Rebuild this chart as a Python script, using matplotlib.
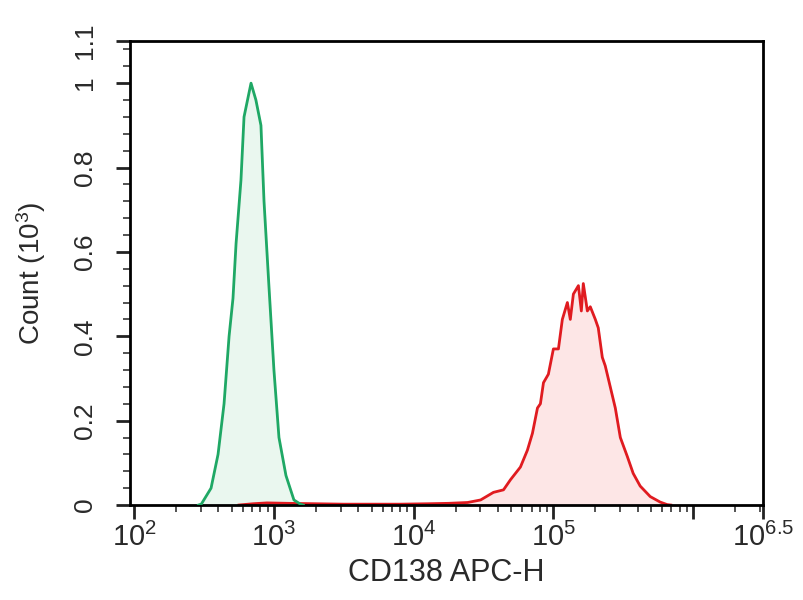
import numpy as np
import matplotlib
matplotlib.use("Agg")
import matplotlib.pyplot as plt
from matplotlib.ticker import FixedLocator, FixedFormatter, LogLocator, NullFormatter

plt.rcParams["font.family"] = ["Liberation Sans", "DejaVu Sans"]
plt.rcParams["mathtext.fontset"] = "custom"
plt.rcParams["mathtext.rm"] = "Liberation Sans"
plt.rcParams["mathtext.default"] = "regular"

# isotype control histogram (green), log10 of CD138 APC-H vs count (x10^3)
green_log = [2.46, 2.48, 2.55, 2.60, 2.643, 2.679, 2.707, 2.729, 2.764, 2.786,
             2.836, 2.871, 2.907, 2.929, 2.964, 3.0, 3.036, 3.086, 3.143, 3.19, 3.21]
green_count = [0.0, 0.002, 0.04, 0.12, 0.24, 0.40, 0.49, 0.62, 0.77, 0.92,
               1.0, 0.96, 0.90, 0.72, 0.52, 0.32, 0.16, 0.07, 0.012, 0.002, 0.0]

# CD138 stained histogram (red)
red_log = [2.75, 2.85, 2.95, 3.1, 3.3, 3.5, 3.7, 3.9, 4.1, 4.25,
           4.386, 4.479, 4.571, 4.643, 4.693, 4.764, 4.814, 4.85, 4.886, 4.907,
           4.929, 4.964, 5.0, 5.036, 5.064, 5.1, 5.121, 5.143, 5.179, 5.2,
           5.214, 5.243, 5.264, 5.3, 5.321, 5.35, 5.371, 5.407, 5.443, 5.479,
           5.529, 5.571, 5.621, 5.693, 5.764, 5.814, 5.84]
red_count = [0.0, 0.003, 0.005, 0.004, 0.003, 0.002, 0.002, 0.002, 0.003, 0.004,
             0.006, 0.012, 0.03, 0.036, 0.06, 0.09, 0.13, 0.17, 0.23, 0.24,
             0.29, 0.31, 0.37, 0.37, 0.44, 0.48, 0.44, 0.50, 0.52, 0.46,
             0.525, 0.46, 0.47, 0.44, 0.42, 0.35, 0.33, 0.28, 0.23, 0.16,
             0.115, 0.075, 0.045, 0.02, 0.007, 0.001, 0.0]

xtick_pos = [1e2, 1e3, 1e4, 1e5, 1e6, 10 ** 6.5]
xtick_lab = [r"$10^{2}$", r"$10^{3}$", r"$10^{4}$", r"$10^{5}$", "", r"$10^{6.5}$"]
ytick_pos = [0, 0.2, 0.4, 0.6, 0.8, 1.0, 1.1]
ytick_lab = ["0", "0.2", "0.4", "0.6", "0.8", "1", "1.1"]

fig = plt.figure(figsize=(8.04, 6.0), dpi=100)
ax = fig.add_axes([0.1617, 0.1583, 0.7873, 0.7734])

gx = 10 ** np.array(green_log)
rx = 10 ** np.array(red_log)
ax.fill_between(gx, green_count, color="#eaf7ef", zorder=1)
ax.plot(gx, green_count, color="#1fa865", lw=2.0, zorder=3)
ax.fill_between(rx, red_count, color="#fde6e6", zorder=1)
ax.plot(rx, red_count, color="#e01b20", lw=2.0, zorder=2)

ax.set_xscale("log")
ax.set_xlim(10 ** 1.97, 10 ** 6.5)
ax.set_ylim(0, 1.1)

ax.xaxis.set_major_locator(FixedLocator(xtick_pos))
ax.xaxis.set_major_formatter(FixedFormatter(xtick_lab))
ax.xaxis.set_minor_locator(LogLocator(base=10, subs=np.arange(2, 10), numticks=20))
ax.xaxis.set_minor_formatter(NullFormatter())
ax.yaxis.set_major_locator(FixedLocator(ytick_pos))
ax.yaxis.set_major_formatter(FixedFormatter(ytick_lab))
ax.yaxis.set_minor_locator(FixedLocator(np.arange(0.04, 1.1, 0.04)))

for s in ax.spines.values():
    s.set_linewidth(2)
ax.tick_params(which="major", direction="out", length=10, width=2, color="#222222")
ax.tick_params(which="minor", direction="out", length=5, width=1.3, color="#444444")
ax.tick_params(axis="x", labelsize=21, pad=3, labelcolor="#2a2a2a")
ax.tick_params(axis="y", labelsize=19, pad=14, labelcolor="#2a2a2a")
for lab in ax.get_yticklabels():
    lab.set_rotation(90)
    lab.set_va("center")

ax.set_xlabel("CD138 APC-H", fontsize=22, color="#2a2a2a", labelpad=4)
ax.set_ylabel(r"Count $(10^{3})$", fontsize=20, color="#2a2a2a", labelpad=18)

fig.savefig("out.png", dpi=100)
